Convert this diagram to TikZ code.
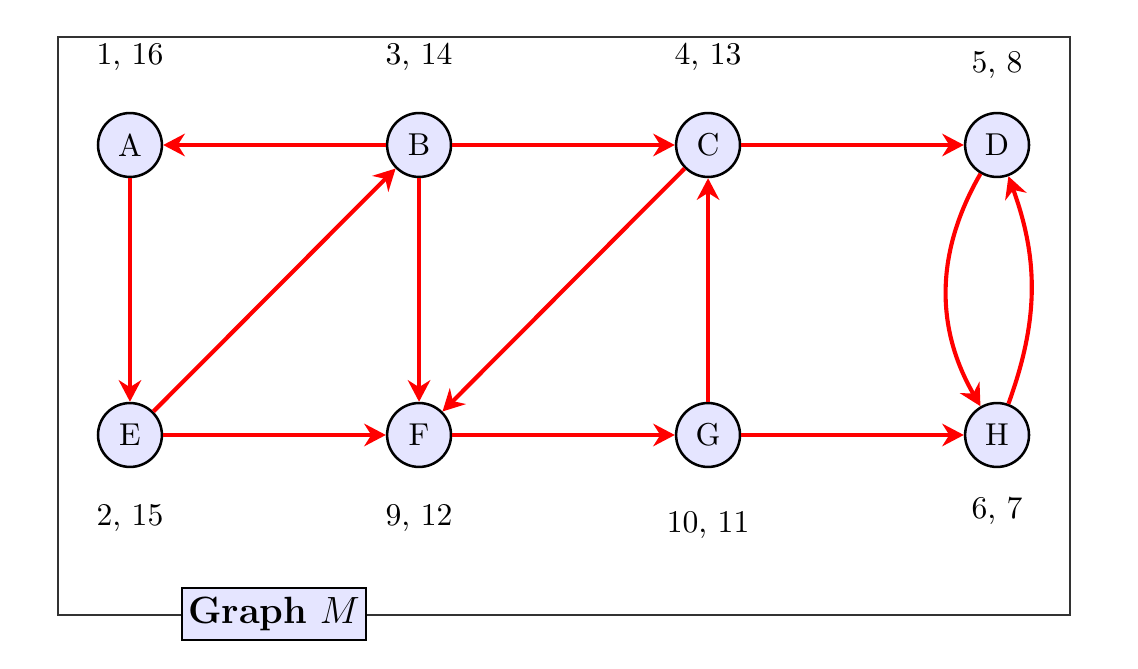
\documentclass[tikz,border=0pt]{standalone}
\usepackage{amsmath}
\usepackage{amssymb}
\usetikzlibrary{arrows.meta}

\begin{document}
\begin{tikzpicture}
\useasboundingbox (0,0) rectangle (12.644,7.422);
\draw [black!80] (0.644,0.589) rectangle (11.889,7.011);
\begin{scope}[every node/.style={circle,thick,draw,fill=blue!10,minimum size=0.71cm,inner sep=0pt}]
\node (A) at (1.444,5.811) {A};
\node (B) at (4.656,5.811) {B};
\node (C) at (7.867,5.811) {C};
\node (D) at (11.078,5.811) {D};
\node (E) at (1.444,2.589) {E};
\node (F) at (4.656,2.589) {F};
\node (G) at (7.867,2.589) {G};
\node (H) at (11.078,2.589) {H};
\end{scope}
\begin{scope}[every node/.style={}]
\node (lA) at (1.444,6.789) {1, 16};
\node (lB) at (4.656,6.789) {3, 14};
\node (lC) at (7.867,6.789) {4, 13};
\node (lD) at (11.078,6.70) {5, 8};
\node (lE) at (1.444,1.667) {2, 15};
\node (lF) at (4.656,1.667) {9, 12};
\node (lG) at (7.867,1.589) {10, 11};
\node (lH) at (11.078,1.744) {6, 7};
\end{scope}
\begin{scope}[line width=1.3pt, red, -{Stealth[length=2.4mm,width=2.5mm]}]
\draw (B) edge (A);
\draw (B) edge (C);
\draw (C) edge (D);
\draw (A) edge (E);
\draw (E) edge (B);
\draw (B) edge (F);
\draw (C) edge (F);
\draw (G) edge (C);
\draw (E) edge (F);
\draw (F) edge (G);
\draw (G) edge (H);
\draw (D) edge [bend right=30] (H);
\draw (H) edge [bend right=20] (D);
\end{scope}
\node [draw, thick, fill=blue!10, minimum width=2.0cm, minimum height=0.58cm, inner sep=2pt, font=\large] (title) at (3.044,0.6) {\textbf{Graph} $M$};
\end{tikzpicture}
\end{document}
